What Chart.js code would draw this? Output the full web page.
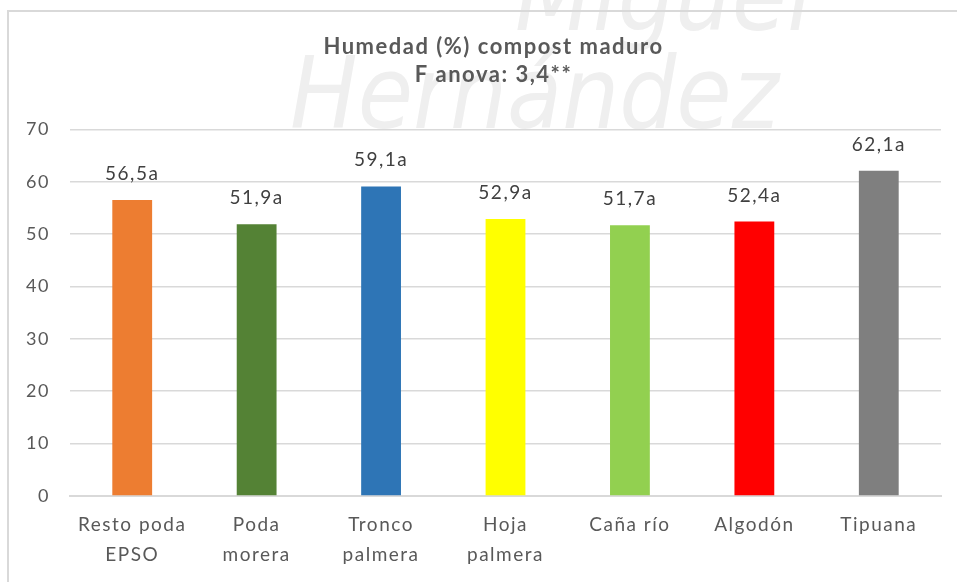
<!DOCTYPE html>
<html lang="es">
<head>
    <meta charset="UTF-8">
    <title>Humedad (%) compost maduro</title>
    <script src="https://cdn.jsdelivr.net/npm/chart.js"></script>
    <style>
        html, body {
            margin: 0;
            padding: 0;
            background: #fff;
            overflow: hidden;
        }

        .wrap {
            position: relative;
            width: 957px;
            height: 582px;
        }

        .frame {
            position: absolute;
            left: 7px;
            top: 10px;
            right: 0;
            bottom: 0;
            border-top: 2px solid #d9d9d9;
            border-left: 2px solid #d9d9d9;
            pointer-events: none;
        }
    </style>
</head>
<body>
    <div class="wrap">
        <canvas id="humedadChart" width="957" height="582"></canvas>
        <div class="frame"></div>
    </div>

    <script>
        // datos
        const categorias = [
            ['Resto poda', 'EPSO'],
            ['Poda', 'morera'],
            ['Tronco', 'palmera'],
            ['Hoja', 'palmera'],
            'Caña río',
            'Algodón',
            'Tipuana'
        ];
        const humedad = [56.5, 51.9, 59.1, 52.9, 51.7, 52.4, 62.1];
        const letras = ['a', 'a', 'a', 'a', 'a', 'a', 'a'];
        const colores = ['#ED7D31', '#548235', '#2E75B6', '#FFFF00', '#92D050', '#FF0000', '#7F7F7F'];
        const tituloLineas = ['Humedad (%) compost maduro', 'F anova: 3,4**'];
        const yTicks = [0, 10, 20, 30, 40, 50, 60, 70];

        const fuente = 'Lato, "Open Sans", sans-serif';

        // marca de agua de fondo + espaciado de letras tipo Excel
        const marcaAgua = {
            id: 'marcaAgua',
            afterLayout(chart) {
                // el titulo en el original esta centrado algo a la derecha
                chart.titleBlock.left += 46;
            },
            beforeDraw(chart) {
                const c = chart.ctx;
                c.save();
                c.fillStyle = '#efefef';
                c.font = 'italic 100px "DejaVu Sans Condensed", "Liberation Sans Narrow", sans-serif';
                c.textBaseline = 'alphabetic';
                c.fillText('Miguel', 515, 30);
                c.fillText('Hernández', 290, 128);
                c.restore();
                c.letterSpacing = '1.5px';
            }
        };

        // etiquetas sobre las barras
        const etiquetas = {
            id: 'etiquetas',
            afterDatasetsDraw(chart) {
                const c = chart.ctx;
                const meta = chart.getDatasetMeta(0);
                c.save();
                c.font = '19px ' + fuente;
                c.fillStyle = '#404040';
                c.textAlign = 'center';
                c.textBaseline = 'alphabetic';
                meta.data.forEach((bar, i) => {
                    const txt = humedad[i].toFixed(1).replace('.', ',') + letras[i];
                    c.fillText(txt, bar.x, bar.y - 20);
                });
                c.restore();
            }
        };

        const ctx = document.getElementById('humedadChart').getContext('2d');
        const humedadChart = new Chart(ctx, {
            type: 'bar',
            data: {
                labels: categorias,
                datasets: [{
                    label: 'Humedad',
                    data: humedad,
                    backgroundColor: colores,
                    borderWidth: 0,
                    categoryPercentage: 1,
                    barPercentage: 0.32
                }]
            },
            options: {
                responsive: false,
                animation: false,
                layout: {
                    padding: { left: 0, right: 16, top: 0, bottom: 0 }
                },
                plugins: {
                    legend: { display: false },
                    tooltip: { enabled: false },
                    title: {
                        display: true,
                        text: tituloLineas,
                        color: '#595959',
                        font: { family: fuente, size: 22, weight: 'bold', lineHeight: 1.28 },
                        padding: { top: 33, bottom: 40 }
                    }
                },
                scales: {
                    x: {
                        offset: true,
                        grid: { display: false, drawTicks: false },
                        border: { display: true, color: '#d9d9d9', width: 2 },
                        ticks: {
                            color: '#595959',
                            font: { family: fuente, size: 19, lineHeight: 1.58 },
                            padding: 14,
                            maxRotation: 0,
                            autoSkip: false
                        },
                        afterFit(scale) { scale.height = 86; }
                    },
                    y: {
                        min: 0,
                        max: 70,
                        afterBuildTicks(scale) {
                            scale.ticks = yTicks.map(v => ({ value: v }));
                        },
                        grid: { color: '#d9d9d9', lineWidth: 1.5, drawTicks: false },
                        border: { display: false },
                        ticks: {
                            color: '#595959',
                            font: { family: fuente, size: 18 },
                            padding: 20
                        },
                        afterFit(scale) { scale.width = 70; }
                    }
                }
            },
            plugins: [marcaAgua, etiquetas]
        });
    </script>
</body>
</html>
